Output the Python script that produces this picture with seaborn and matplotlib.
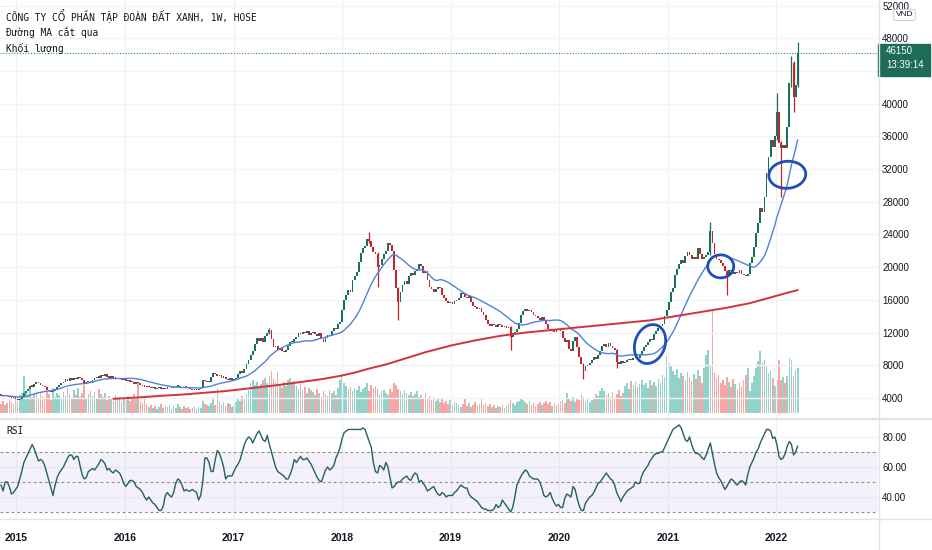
import numpy as np
import pandas as pd
import seaborn as sns
import matplotlib
matplotlib.use("Agg")
import matplotlib.pyplot as plt
import matplotlib.dates as mdates
import matplotlib.transforms as mtransforms
from matplotlib.patches import Rectangle, Ellipse

# weekly closes, thousand VND (2014-11-10 .. 2022-03-14)
close_k = [
    4.3, 4.2, 4.4, 4.2, 4.1, 4.0, 4.1, 3.9, 3.8, 3.9,
    4.3, 4.6, 4.9, 5.1, 5.5, 5.4, 5.7, 5.9, 5.8, 5.6,
    5.5, 5.3, 5.0, 4.8, 4.7, 4.9, 5.1, 5.3, 5.6, 5.8,
    6.0, 6.3, 6.1, 6.4, 6.2, 6.5, 6.3, 6.6, 6.4, 6.2,
    5.7, 5.9, 6.1, 5.8, 6.2, 6.4, 6.6, 6.5, 6.8, 6.7,
    6.9, 6.6, 6.5, 6.7, 6.4, 6.5, 6.3, 6.4, 6.2, 6.3,
    6.1, 6.2, 6.0, 5.9, 5.7, 5.9, 5.8, 5.6, 5.5, 5.4,
    5.3, 5.4, 5.2, 5.3, 5.1, 5.2, 5.3, 5.1, 5.2, 5.1,
    5.3, 5.4, 5.2, 5.3, 5.4, 5.5, 5.3, 5.2, 5.4, 5.3,
    5.2, 5.1, 5.0, 5.1, 5.0, 5.1, 5.2, 6.2, 6.1, 5.9,
    6.0, 6.6, 7.0, 6.9, 6.7, 6.8, 6.5, 6.6, 6.3, 6.2,
    6.4, 6.2, 6.3, 6.5, 6.9, 7.3, 7.1, 7.5, 8.1, 8.6,
    9.2, 9.8, 10.6, 11.4, 11.0, 11.3, 10.9, 11.6, 11.9, 12.3,
    11.2, 10.2, 10.4, 9.9, 10.1, 9.8, 9.6, 9.9, 10.4, 10.9,
    10.8, 11.2, 11.5, 12.0, 11.8, 12.1, 11.9, 12.2, 11.7, 11.9,
    12.1, 11.8, 11.6, 11.9, 11.2, 10.8, 11.3, 11.7, 11.6, 12.2,
    12.6, 12.4, 13.0, 13.3, 14.8, 16.0, 16.6, 17.2, 17.0, 18.4,
    18.9, 19.4, 20.6, 21.7, 22.3, 22.6, 23.5, 23.2, 22.5, 21.9,
    21.6, 20.0, 20.3, 21.0, 21.6, 22.0, 23.0, 22.7, 22.0, 19.7,
    17.5, 15.8, 17.0, 17.8, 18.3, 18.0, 18.9, 19.3, 19.0, 19.5,
    19.8, 20.4, 20.1, 19.3, 19.5, 18.4, 17.6, 17.3, 17.0, 17.3,
    17.6, 17.4, 16.6, 16.2, 15.9, 15.6, 15.8, 15.5, 15.9, 16.0,
    16.2, 16.9, 16.7, 16.4, 16.2, 16.5, 15.8, 15.3, 15.1, 14.9,
    15.0, 14.5, 14.2, 13.5, 13.1, 12.8, 13.0, 12.9, 12.7, 13.0,
    12.9, 12.7, 12.8, 12.6, 12.7, 11.5, 11.9, 12.1, 12.5, 13.2,
    14.1, 14.6, 14.9, 14.6, 14.8, 14.5, 14.2, 14.0, 13.8, 13.6,
    13.9, 13.4, 13.0, 12.5, 12.2, 12.4, 12.1, 12.4, 12.3, 12.2,
    11.4, 10.8, 11.1, 10.0, 9.7, 11.0, 11.5, 10.2, 9.0, 8.2,
    7.3, 7.9, 8.0, 8.3, 8.7, 9.0, 8.8, 9.3, 9.8, 10.3,
    10.6, 10.2, 10.7, 10.4, 10.1, 9.9, 8.4, 8.2, 8.5, 8.3,
    8.4, 8.6, 8.7, 8.6, 8.9, 9.0, 8.9, 9.2, 9.8, 10.2,
    10.5, 10.9, 11.2, 11.1, 11.8, 12.2, 12.6, 12.8, 13.1, 14.0,
    14.8, 15.8, 17.0, 17.4, 19.0, 19.8, 20.4, 20.9, 20.5, 21.4,
    21.9, 21.5, 21.0, 21.3, 21.0, 22.3, 21.6, 21.0, 21.2, 21.5,
    21.8, 24.4, 23.0, 21.6, 21.0, 20.9, 20.5, 20.1, 19.5, 19.1,
    19.7, 19.5, 19.2, 19.4, 19.3, 19.6, 19.2, 19.0, 18.9, 19.2,
    20.5, 21.3, 22.5, 24.2, 25.4, 27.3, 26.7, 28.6, 31.5, 33.5,
    35.6, 34.7, 36.0, 39.0, 35.2, 34.6, 35.0, 34.6, 37.2, 42.5,
    45.0, 40.8, 42.3, 46.15,
]
first_open_k = 4.4

# the long wicks that stand out (week index: (low, high)), thousand VND
wicks_k = {
    129: (11.8, 12.6), 177: (22.9, 24.3), 181: (17.6, 21.8), 191: (13.5, 17.6),
    245: (9.9, 12.8), 280: (6.3, 8.3), 296: (7.7, 10.0), 341: (21.5, 25.5),
    349: (16.6, 19.6), 373: (35.5, 41.3), 375: (28.6, 35.4), 380: (42.0, 45.8),
    381: (39.0, 45.2), 383: (42.0, 47.6),
}

# volume, millions of shares
volume_m = [
    9, 12, 8, 10, 14, 11, 9, 15, 12, 18,
    20, 37, 22, 18, 24, 16, 19, 21, 14, 20,
    17, 15, 22, 19, 13, 25, 16, 20, 18, 14,
    21, 17, 25, 19, 15, 23, 18, 25, 16, 20,
    28, 15, 19, 22, 17, 21, 14, 24, 19, 16,
    20, 13, 17, 15, 12, 18, 14, 16, 11, 15,
    13, 17, 12, 15, 19, 14, 30, 12, 10, 14,
    9, 6, 8, 5, 7, 4, 6, 9, 5, 7,
    6, 8, 4, 7, 5, 9, 6, 4, 7, 5,
    6, 4, 5, 7, 4, 6, 5, 12, 9, 8,
    7, 10, 15, 8, 25, 12, 9, 11, 7, 10,
    9, 6, 8, 11, 14, 12, 17, 15, 19, 23,
    30, 33, 28, 31, 26, 29, 33, 35, 30, 37,
    42, 34, 30, 41, 28, 25, 31, 27, 33, 35,
    30, 32, 27, 24, 29, 22, 26, 20, 25, 23,
    21, 18, 24, 20, 16, 22, 19, 17, 23, 20,
    22, 18, 25, 33, 38, 30, 27, 24, 26, 22,
    25, 23, 27, 21, 24, 26, 30, 22, 28, 25,
    27, 24, 19, 22, 23, 20, 18, 24, 21, 30,
    28, 24, 22, 19, 23, 20, 18, 21, 17, 19,
    22, 16, 18, 14, 20, 15, 17, 13, 16, 12,
    14, 11, 15, 10, 12, 9, 13, 8, 11, 10,
    8, 6, 9, 15, 7, 10, 6, 8, 11, 7,
    9, 14, 8, 10, 7, 9, 6, 8, 5, 7,
    6, 8, 5, 7, 9, 13, 10, 8, 11, 12,
    14, 13, 11, 9, 12, 8, 10, 7, 9, 11,
    8, 10, 12, 9, 11, 7, 10, 8, 9, 12,
    13, 10, 20, 14, 12, 16, 11, 15, 13, 18,
    16, 12, 14, 11, 13, 15, 19, 17, 22, 25,
    22, 18, 20, 16, 21, 15, 19, 23, 17, 20,
    27, 30, 24, 32, 28, 31, 26, 29, 33, 28,
    30, 25, 33, 28, 31, 27, 34, 30, 38, 36,
    57, 50, 47, 42, 38, 44, 35, 40, 37, 33,
    41, 36, 32, 39, 34, 43, 37, 30, 45, 58,
    63, 48, 103, 40, 35, 38, 30, 33, 28, 36,
    31, 26, 34, 29, 24, 30, 27, 33, 38, 45,
    22, 30, 37, 45, 52, 62, 50, 53, 48, 40,
    43, 35, 27, 33, 53, 33, 36, 30, 37, 55,
    53, 37, 43, 45,
]

# RSI(14), weekly
rsi = [
    48, 44, 50, 50, 47, 42, 43, 45, 47, 52, 57, 63, 66, 69, 72, 75, 72, 68, 64, 65,
    64, 61, 56, 51, 46, 41, 48, 53, 56, 58, 60, 63, 66, 68, 68, 65, 67, 67, 61, 55,
    52, 53, 57, 58, 59, 58, 60, 62, 65, 64, 62, 58, 59, 57, 56, 58, 57, 56, 53, 49,
    47, 49, 51, 51, 50, 47, 46, 45, 43, 40, 38, 40, 38, 36, 35, 33, 31, 31, 34, 41,
    43, 41, 40, 43, 49, 52, 51, 48, 44, 45, 44, 44, 45, 44, 43, 38, 41, 50, 66, 66,
    63, 57, 57, 65, 71, 69, 65, 60, 52, 54, 54, 54, 57, 60, 62, 65, 70, 75, 78, 80,
    79, 76, 79, 82, 84, 81, 78, 77, 81, 75, 70, 65, 60, 57, 56, 55, 54, 52, 52, 55,
    59, 65, 63, 65, 67, 65, 65, 66, 64, 62, 59, 56, 53, 51, 50, 54, 58, 60, 58, 59,
    61, 66, 69, 73, 79, 83, 84, 85, 85, 85, 85, 85, 85, 85, 86, 85, 81, 77, 73, 63,
    57, 56, 61, 60, 58, 63, 60, 53, 46, 47, 49, 50, 50, 52, 53, 54, 52, 51, 54, 56,
    55, 50, 51, 49, 47, 44, 45, 46, 47, 44, 42, 41, 43, 42, 40, 41, 41, 41, 43, 44,
    46, 48, 47, 46, 46, 42, 40, 39, 38, 37, 35, 33, 32, 32, 31, 31, 31, 32, 35, 33,
    34, 38, 36, 34, 32, 30, 33, 40, 48, 51, 54, 56, 58, 57, 54, 53, 52, 52, 52, 50,
    46, 41, 40, 41, 43, 39, 36, 34, 35, 33, 33, 39, 42, 41, 40, 47, 45, 39, 34, 31,
    31, 36, 38, 40, 41, 43, 46, 49, 50, 52, 54, 56, 54, 52, 51, 48, 43, 40, 37, 40,
    42, 44, 45, 46, 47, 50, 49, 49, 54, 57, 59, 61, 64, 66, 68, 69, 69, 70, 70, 73,
    76, 79, 82, 85, 86, 87, 88, 86, 82, 78, 77, 80, 75, 71, 69, 69, 68, 66, 65, 68,
    72, 76, 69, 62, 56, 53, 51, 48, 45, 47, 50, 52, 51, 49, 48, 50, 51, 50, 48, 55,
    60, 63, 66, 70, 72, 76, 79, 82, 85, 85, 84, 79, 80, 75, 67, 65, 66, 69, 74, 77,
    75, 68, 70, 74,
]

# long moving average (red), read at a few weeks
ma_long_week = [54, 65, 76, 86, 96, 108, 120, 132, 144, 154, 163, 170, 177, 185, 192,
                204, 216, 228, 240, 252, 264, 276, 288, 300, 312, 324, 336, 348, 360,
                370, 377, 383]
ma_long_k = [3.9, 4.05, 4.25, 4.4, 4.6, 4.85, 5.2, 5.55, 5.95, 6.3, 6.7, 7.1, 7.6, 8.1,
             8.65, 9.6, 10.4, 11.05, 11.6, 12.0, 12.3, 12.6, 12.9, 13.2, 13.5, 14.0,
             14.5, 15.0, 15.6, 16.3, 16.8, 17.2]

# price axis labels (44000 sits under the last-price tag)
price_ticks = list(range(4000, 52001, 4000))
price_labels = ["" if v == 44000 else str(v) for v in price_ticks]

# hand drawn rings: (week index, price k, width px, height px, angle)
rings = [(312, 10.6, 30, 40, -20), (346, 20.1, 26, 23, 0), (378, 31.3, 37, 27, 5)]

header = ["CÔNG TY CỔ PHẦN TẬP ĐOÀN ĐẤT XANH, 1W, HOSE", "Đường MA cắt qua", "Khối lượng"]

UP, DOWN = "#17705c", "#c4252e"
UP_VOL, DOWN_VOL = "#92d2c8", "#f6a7a5"
TXT = "#131722"
GRID = "#f0f2f6"
SEP = "#e0e3eb"

sns.set_style("white")
plt.rcParams["font.family"] = ["Liberation Sans", "DejaVu Sans"]

dates = pd.date_range("2014-11-10", periods=len(close_k), freq="W-MON")
xs = mdates.date2num(dates)
close = np.array(close_k) * 1000
opn = np.r_[first_open_k * 1000, close[:-1]]
up = close >= opn
ma20 = pd.Series(close).rolling(20, min_periods=1).mean().values

W, H = 932, 550
fig = plt.figure(figsize=(W / 100, H / 100), dpi=100)
pane = [0, 1 - 418 / H, 878 / W, 418 / H]
ax_vol = fig.add_axes(pane)
ax = fig.add_axes(pane, sharex=ax_vol)
ax.patch.set_alpha(0)
ax_rsi = fig.add_axes([0, 1 - 518 / H, 878 / W, 98 / H], sharex=ax_vol)

x0 = xs[0]
ax.set_xlim(x0 - 0.48 * 7, x0 + 421.6 * 7)
ax.set_ylim(1554, 52680)
ax_vol.set_ylim(-5, 413)
ax_rsi.set_ylim(26, 91.3)

# volume
ax_vol.bar(xs, volume_m, width=5.5, color=np.where(up, UP_VOL, DOWN_VOL), linewidth=0)
ax_vol.axis("off")

# candles
lo = np.minimum(opn, close)
body = np.maximum(np.abs(close - opn), 130)
ccol = np.where(up, UP, DOWN)
ax.bar(xs, body, bottom=lo, width=6, color=ccol, linewidth=0, zorder=3)
for i, (wl, wh) in wicks_k.items():
    ax.vlines(xs[i], wl * 1000, wh * 1000, color=ccol[i], lw=0.9, zorder=2)

# moving averages
sns.lineplot(x=xs, y=ma20, ax=ax, color="#4f82d8", lw=1.0, estimator=None, zorder=4)
sns.lineplot(x=xs[ma_long_week], y=np.array(ma_long_k) * 1000, ax=ax,
             color="#d0343a", lw=1.4, estimator=None, zorder=4)

# last price line + label
last = close[-1]
ax.axhline(last, color="#2a8c7c", lw=0.8, ls=(0, (1, 1.5)), zorder=1)
ppx = (52680 - 1554) / 418
tr = mtransforms.blended_transform_factory(ax.transAxes, ax.transData)
ax.add_patch(Rectangle((1.0, last - 23 * ppx), 52 / 878, 32 * ppx, transform=tr,
                       clip_on=False, color="#1d6b58", zorder=6))
ax.text(1.009, last + 2 * ppx, f"{last:.0f}", transform=tr, color="white", fontsize=7,
        va="center", ha="left", zorder=7, clip_on=False)
ax.text(1.009, last - 12 * ppx, "13:39:14", transform=tr, color="white", fontsize=7,
        va="center", ha="left", zorder=7, clip_on=False)

# axes styling, price pane
ax.yaxis.tick_right()
ax.set_yticks(price_ticks)
ax.set_yticklabels(price_labels)
ax.tick_params(axis="y", length=0, pad=3, labelsize=7, labelcolor=TXT)
ax.tick_params(axis="x", length=0, labelbottom=False)
ax.xaxis.set_major_locator(mdates.YearLocator())
ax.grid(True, color=GRID, lw=1)
ax.set_axisbelow(True)
ax.set_xlabel("")
ax.set_ylabel("")
for s in ax.spines.values():
    s.set_visible(False)

# RSI pane
ax_rsi.axhspan(30, 70, color="#7e57c2", alpha=0.08, lw=0)
for v in (70, 50, 30):
    ax_rsi.axhline(v, color="#8a8d96", lw=0.8, ls=(0, (2.5, 2.5)))
sns.lineplot(x=xs, y=rsi, ax=ax_rsi, color="#23625e", lw=1.0, estimator=None)
ax_rsi.yaxis.tick_right()
ax_rsi.set_yticks([40, 60, 80])
ax_rsi.set_yticklabels(["40.00", "60.00", "80.00"])
ax_rsi.tick_params(axis="y", length=0, pad=3, labelsize=7, labelcolor=TXT)
ax_rsi.xaxis.set_major_locator(mdates.YearLocator())
ax_rsi.xaxis.set_major_formatter(mdates.DateFormatter("%Y"))
ax_rsi.tick_params(axis="x", length=0, pad=11, labelsize=7.5, labelcolor=TXT)
for t in ax_rsi.get_xticklabels():
    t.set_fontweight("bold")
ax_rsi.grid(True, color=GRID, lw=1)
ax_rsi.set_axisbelow(True)
ax_rsi.set_xlabel("")
ax_rsi.set_ylabel("")
for s in ax_rsi.spines.values():
    s.set_visible(False)

# pane separators
fig.add_artist(plt.Line2D([878.5 / W, 878.5 / W], [0, 1], color=SEP, lw=1))
fig.add_artist(plt.Line2D([0, 1], [1 - 419 / H, 1 - 419 / H], color=SEP, lw=1.6))
fig.add_artist(plt.Line2D([0, 1], [1 - 518.5 / H, 1 - 518.5 / H], color=SEP, lw=1))

# legend texts
mono = ["DejaVu Sans Mono", "DejaVu Sans"]
for k, line in enumerate(header):
    fig.text(6 / W, 1 - (16.5 + 15.8 * k) / H, line, family=mono, fontsize=6.9,
             color=TXT, va="center", ha="left")
fig.text(6 / W, 1 - 431 / H, "RSI", family=mono, fontsize=6.9, color=TXT, va="center")
fig.text(904.5 / W, 1 - 15 / H, "VND", fontsize=6, color=TXT, ha="center", va="center",
         bbox=dict(boxstyle="round,pad=0.25", fc="white", ec="#c9ccd4", lw=0.7))

# hand drawn rings around the crossings
for wk, pk, w, h, ang in rings:
    cx, cy = ax.transData.transform((xs[wk], pk * 1000))
    fig.add_artist(Ellipse((cx, cy), w, h, angle=ang, fill=False, ec="#1f4fb6", lw=2.0,
                           transform=mtransforms.IdentityTransform(), zorder=8))

fig.savefig("out.png", dpi=100)
